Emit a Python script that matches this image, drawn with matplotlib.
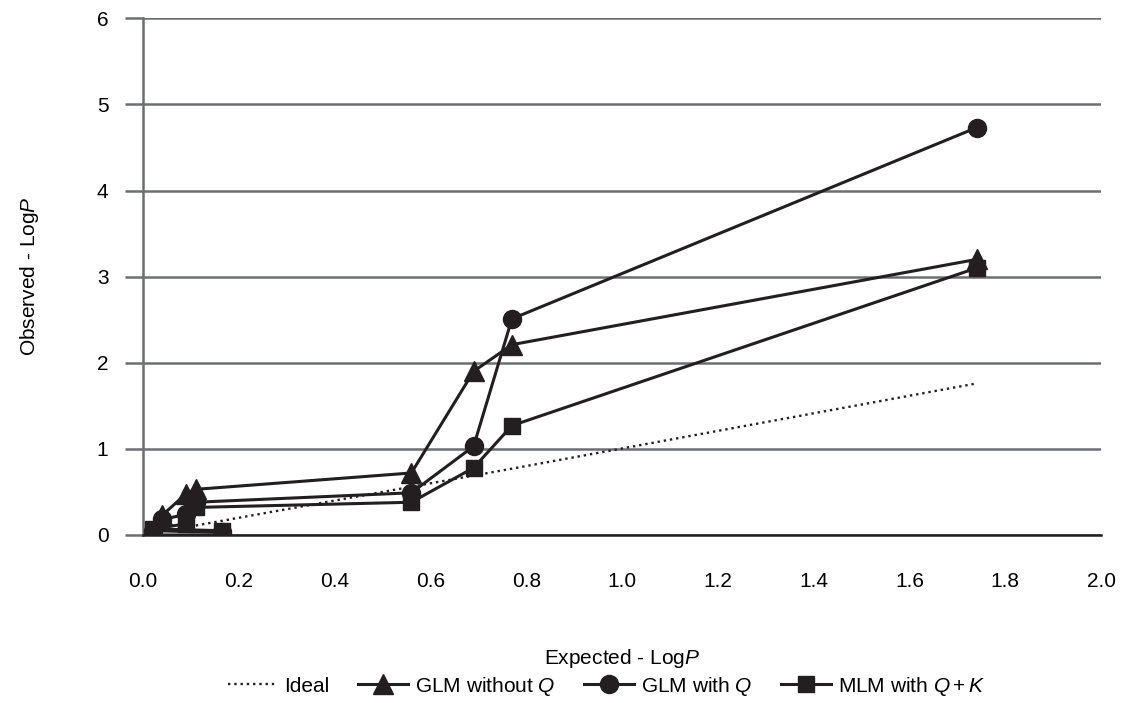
import matplotlib
matplotlib.use('Agg')
import matplotlib.pyplot as plt

# expected -log P values
ideal_x = [0.02, 0.04, 0.09, 0.11, 0.165, 0.56, 0.69, 0.77, 1.74]
ideal_y = [0.02, 0.04, 0.09, 0.11, 0.165, 0.56, 0.69, 0.77, 1.76]

glm_noq_x = [0.165, 0.02, 0.04, 0.09, 0.11, 0.56, 0.69, 0.77, 1.74]
glm_noq_y = [0.0, 0.0, 0.23, 0.48, 0.53, 0.72, 1.90, 2.21, 3.20]

glm_q_x = [0.165, 0.02, 0.04, 0.09, 0.11, 0.56, 0.69, 0.77, 1.74]
glm_q_y = [0.03, 0.05, 0.18, 0.24, 0.38, 0.49, 1.03, 2.51, 4.73]

mlm_x = [0.165, 0.02, 0.09, 0.11, 0.56, 0.69, 0.77, 1.74]
mlm_y = [0.05, 0.07, 0.13, 0.32, 0.38, 0.78, 1.27, 3.10]

xticks = [0.0, 0.2, 0.4, 0.6, 0.8, 1.0, 1.2, 1.4, 1.6, 1.8, 2.0]
yticks = [0, 1, 2, 3, 4, 5, 6]

plt.rcParams['font.family'] = ['Liberation Sans', 'DejaVu Sans']
plt.rcParams['mathtext.fontset'] = 'custom'
plt.rcParams['mathtext.it'] = 'Liberation Sans:italic'
plt.rcParams['mathtext.rm'] = 'Liberation Sans'
fig = plt.figure(figsize=(11.27, 7.03), dpi=100)
ax = fig.add_axes([0.127, 0.239, 0.85, 0.735])

c = '#231f20'
ax.plot(ideal_x, ideal_y, ':', color=c, lw=1.7, label='Ideal', zorder=3)
ax.plot(glm_noq_x, glm_noq_y, '-^', color=c, lw=2.2, ms=14, label='GLM without $Q$', zorder=4)
ax.plot(glm_q_x, glm_q_y, '-o', color=c, lw=2.2, ms=13, label='GLM with $Q$', zorder=4)
ax.plot(mlm_x, mlm_y, '-s', color=c, lw=2.2, ms=12, label='MLM with $Q + K$', zorder=4)

ax.set_xlim(0, 2.0)
ax.set_ylim(0, 6)
ax.set_xticks(xticks)
ax.set_xticklabels(['%.1f' % v for v in xticks])
ax.set_yticks(yticks)
ax.yaxis.grid(True, color='#6d6e71', lw=1.8)
ax.set_axisbelow(True)
for s in ['top', 'right']:
    ax.spines[s].set_visible(False)
ax.spines['left'].set_color('#6d6e71')
ax.spines['left'].set_linewidth(1.8)
ax.spines['bottom'].set_color(c)
ax.spines['bottom'].set_linewidth(1.8)
ax.tick_params(axis='y', length=13, width=1.8, color='#6d6e71', labelsize=15, pad=12)
ax.tick_params(axis='x', length=0, labelsize=15, pad=27)

ax.set_xlabel('Expected - Log$P$', fontsize=15, labelpad=40)
ax.set_ylabel('Observed - Log$P$', fontsize=15, labelpad=40)

fig.legend(loc='center', bbox_to_anchor=(0.538, 0.024), ncol=4, frameon=False,
           fontsize=15, handlelength=2.4, columnspacing=1.4, handletextpad=0.3,
           borderpad=0.1)

fig.savefig('out.png', dpi=100)
